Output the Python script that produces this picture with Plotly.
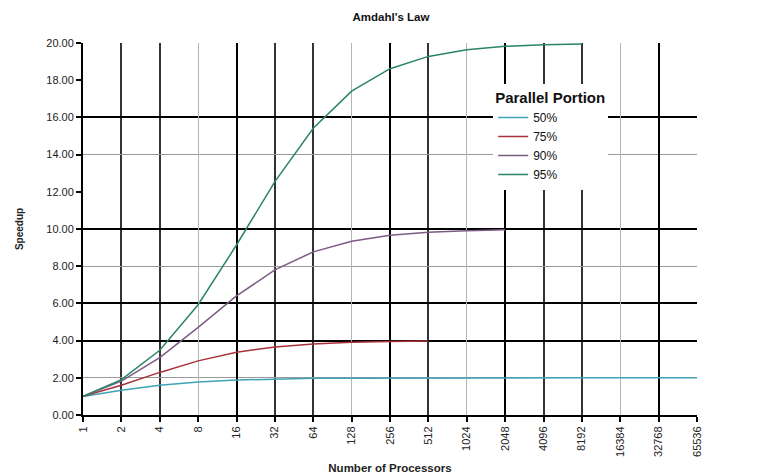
import plotly.graph_objects as go

processors = ["1", "2", "4", "8", "16", "32", "64", "128", "256", "512",
              "1024", "2048", "4096", "8192", "16384", "32768", "65536"]

series_names = ["50%", "75%", "90%", "95%"]
speedup_50 = [1.00, 1.33, 1.60, 1.78, 1.88, 1.94, 1.97, 1.98, 1.99, 2.00,
              2.00, 2.00, 2.00, 2.00, 2.00, 2.00, 2.00]
speedup_75 = [1.00, 1.60, 2.29, 2.91, 3.37, 3.66, 3.82, 3.91, 3.95, 3.98]
speedup_90 = [1.00, 1.82, 3.08, 4.71, 6.40, 7.80, 8.77, 9.34, 9.66, 9.83, 9.91, 9.96]
speedup_95 = [1.00, 1.90, 3.48, 5.93, 9.14, 12.55, 15.42, 17.41, 18.62, 19.28,
              19.64, 19.82, 19.91, 19.95]

y_ticks = [0, 2, 4, 6, 8, 10, 12, 14, 16, 18, 20]

# gridline groups (category indices / y values)
x_grid_light = [3, 7, 10, 14]
x_grid_dark = [1, 2, 5, 6, 9, 12, 13]
x_grid_black = [4, 8, 11, 15]
y_grid_light = [2, 8, 14]
y_grid_black = [4, 6, 10, 16, 20]

colors = ["#3fa3b6", "#a8323a", "#7b5b82", "#2a8466"]
all_series = [speedup_50, speedup_75, speedup_90, speedup_95]

FONT = "Liberation Sans, Arial, sans-serif"

fig = go.Figure()
for name, vals, col in zip(series_names, all_series, colors):
    fig.add_trace(go.Scatter(
        x=list(range(len(vals))), y=vals, mode="lines", name=name,
        line=dict(color=col, width=1.5),
    ))

# dummy traces for the overlay axes that carry extra gridlines
for xa, ya in [("x2", "y2"), ("x3", "y3"), ("x4", "y2")]:
    fig.add_trace(go.Scatter(x=[None], y=[None], xaxis=xa, yaxis=ya,
                             showlegend=False, hoverinfo="skip"))

xr = [0, len(processors) - 1]
yr = [0, 20]


def grid_axis(overlay, vals, color, width):
    return dict(overlaying=overlay, range=xr if overlay == "x" else yr,
                tickmode="array", tickvals=vals, showticklabels=False, ticks="",
                showgrid=True, gridcolor=color, gridwidth=width,
                zeroline=False, showline=False)


fig.update_layout(
    width=766, height=476,
    margin=dict(l=75, r=77, t=35, b=69),
    paper_bgcolor="white", plot_bgcolor="white",
    font=dict(family=FONT, size=11, color="#222"),
    title=dict(text="<b>Amdahl's Law</b>", x=0.5, xanchor="center", y=0.981,
               yanchor="middle", font=dict(family=FONT, size=11.5, color="#111")),
    showlegend=True,
    legend=dict(
        x=0.668, y=0.891, xanchor="left", yanchor="top",
        bgcolor="white", borderwidth=0,
        title=dict(text="<b>Parallel Portion</b>",
                   font=dict(family=FONT, size=15, color="#111")),
        font=dict(family=FONT, size=12, color="#111"),
        itemwidth=30,
    ),
    xaxis=dict(
        range=xr, tickmode="array", tickvals=list(range(len(processors))),
        ticktext=processors, tickangle=-90, ticks="outside", ticklen=5,
        tickcolor="#000", tickwidth=1.5,
        showline=True, linecolor="#000", linewidth=2,
        showgrid=False, zeroline=False, automargin=False,
        tickfont=dict(family=FONT, size=11, color="#222"),
        title=dict(text="<b>Number of Processors</b>", standoff=8,
                   font=dict(family=FONT, size=11.5, color="#222")),
    ),
    yaxis=dict(
        range=yr, tickmode="array", tickvals=y_ticks,
        ticktext=[f"{v:.2f}" for v in y_ticks], ticks="outside", ticklen=5,
        tickcolor="#000", tickwidth=1.5,
        showline=True, linecolor="#000", linewidth=2,
        showgrid=False, zeroline=False, automargin=False,
        tickfont=dict(family=FONT, size=11, color="#222"),
        title=dict(text="<b>Speedup</b>", standoff=21,
                   font=dict(family=FONT, size=10, color="#222")),
    ),
    xaxis2=grid_axis("x", x_grid_dark, "#333", 1.5),
    xaxis3=grid_axis("x", x_grid_black, "#000", 2),
    xaxis4=grid_axis("x", x_grid_light, "#b5b5b5", 1),
    yaxis2=grid_axis("y", y_grid_light, "#9a9a9a", 1),
    yaxis3=grid_axis("y", y_grid_black, "#000", 2),
)

fig.write_html("out.html")
